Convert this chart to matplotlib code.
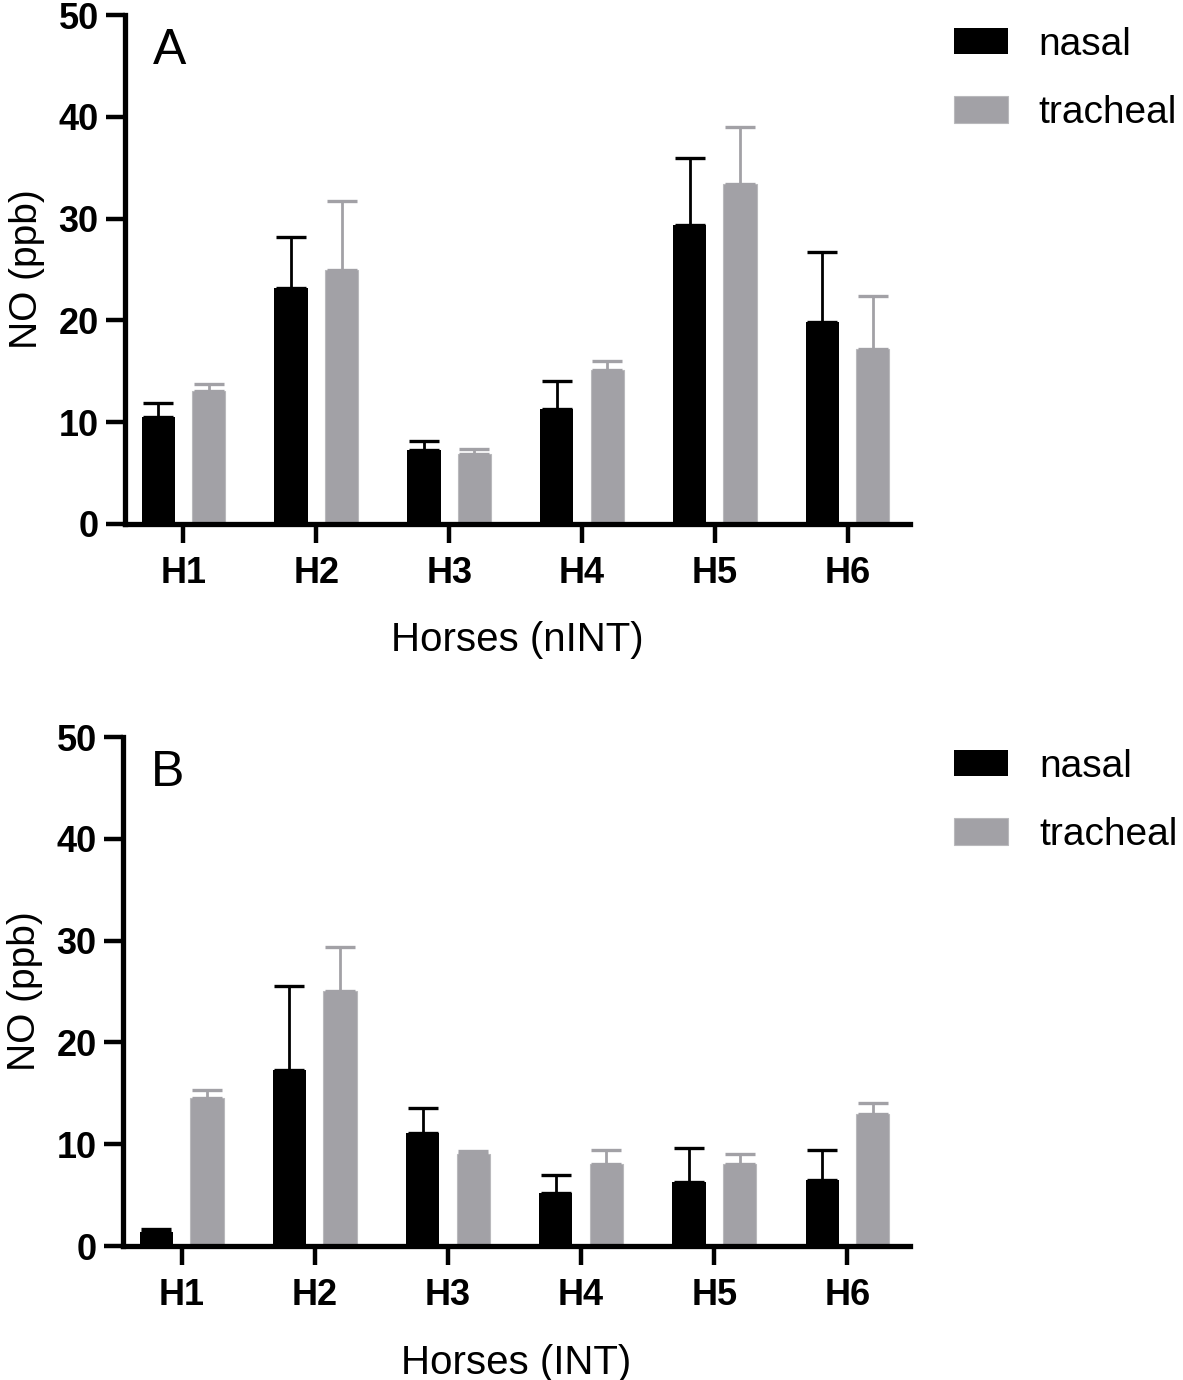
import matplotlib
matplotlib.use('Agg')
import matplotlib.pyplot as plt
import numpy as np

plt.rcParams['font.family'] = ['Liberation Sans', 'DejaVu Sans']

horses = ['H1', 'H2', 'H3', 'H4', 'H5', 'H6']

# panel A, nINT horses
nasal_a = [10.5, 23.2, 7.3, 11.3, 29.4, 19.8]
nasal_a_sd = [1.4, 5.0, 0.9, 2.7, 6.6, 6.9]
tracheal_a = [13.1, 25.0, 6.9, 15.1, 33.4, 17.2]
tracheal_a_sd = [0.7, 6.7, 0.5, 0.9, 5.6, 5.2]

# panel B, INT horses
nasal_b = [1.4, 17.3, 11.1, 5.2, 6.3, 6.5]
nasal_b_sd = [0.3, 8.2, 2.5, 1.8, 3.3, 2.9]
tracheal_b = [14.5, 25.1, 9.0, 8.1, 8.1, 13.0]
tracheal_b_sd = [0.8, 4.3, 0.3, 1.3, 0.9, 1.0]

grey = '#a2a1a6'
x = np.arange(len(horses))
w = 0.25

fig = plt.figure(figsize=(11.83, 13.80), dpi=100)
ax_a = fig.add_axes([0.1057, 0.6203, 0.6636, 0.3688])
ax_b = fig.add_axes([0.1040, 0.0971, 0.6653, 0.3688])


def panel(ax, nasal, nasal_sd, tracheal, tracheal_sd, letter, xlabel):
    zeros = np.zeros(len(nasal))
    ax.bar(x - 0.19, nasal, w, color='black', label='nasal', zorder=2,
           yerr=[zeros, nasal_sd],
           error_kw=dict(ecolor='black', elinewidth=2.0, capsize=11, capthick=2.4))
    ax.bar(x + 0.19, tracheal, w, color=grey, edgecolor='#b9b9bc', linewidth=0.8,
           label='tracheal', zorder=2,
           yerr=[zeros, tracheal_sd],
           error_kw=dict(ecolor=grey, elinewidth=2.0, capsize=11, capthick=2.4))
    ax.set_xlim(-0.44, 5.47)
    ax.set_ylim(0, 50)
    ax.set_yticks([0, 10, 20, 30, 40, 50])
    ax.set_xticks(x)
    ax.set_xticklabels(horses)
    for s in ['top', 'right']:
        ax.spines[s].set_visible(False)
    for s in ['left', 'bottom']:
        ax.spines[s].set_linewidth(3.8)
    ax.tick_params(axis='y', length=14, width=3.2, pad=5, labelsize=26)
    ax.tick_params(axis='x', length=14, width=3.2, pad=9, labelsize=26)
    for lab in ax.get_xticklabels() + ax.get_yticklabels():
        lab.set_fontweight('bold')
    ax.set_ylabel('NO (ppb)', fontsize=28, labelpad=10)
    ax.set_xlabel(xlabel, fontsize=29, labelpad=22)
    ax.text(0.035, 0.975, letter, transform=ax.transAxes, fontsize=36,
            va='top', ha='left')
    ax.legend(loc='upper left', bbox_to_anchor=(1.056, 0.977), frameon=False,
              fontsize=28, handlelength=1.38, handleheight=0.68,
              handletextpad=0.8, labelspacing=0.83, borderaxespad=0, borderpad=0)


panel(ax_a, nasal_a, nasal_a_sd, tracheal_a, tracheal_a_sd, 'A', 'Horses (nINT)')
panel(ax_b, nasal_b, nasal_b_sd, tracheal_b, tracheal_b_sd, 'B', 'Horses (INT)')

plt.savefig('out.png', dpi=100)
